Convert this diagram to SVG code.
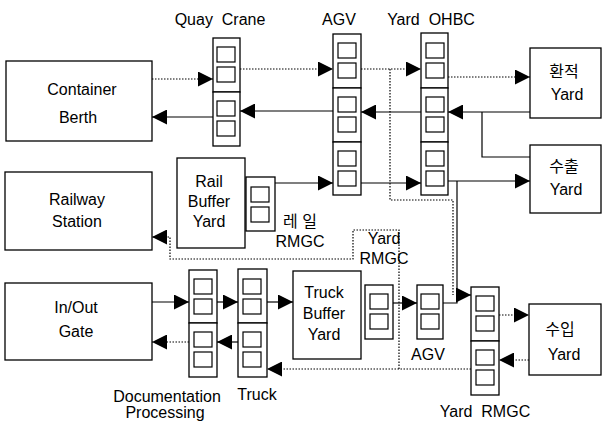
<svg xmlns="http://www.w3.org/2000/svg" width="604" height="423" viewBox="0 0 604 423">
<style>
.box{fill:#fff;stroke:#000;stroke-width:1.3}
.sq{fill:#fff;stroke:#000;stroke-width:1.2}
.t{font-family:"Liberation Sans",Arial,sans-serif;font-size:16px;fill:#000;text-anchor:middle;white-space:pre}
.k{font-family:"Liberation Sans","Noto Sans CJK KR",sans-serif;font-size:16px;fill:#000;text-anchor:middle;white-space:pre}
.s{fill:none;stroke:#000;stroke-width:1.2}
.d{fill:none;stroke:#000;stroke-width:1.2;stroke-dasharray:1.5 1.5}
</style>
<defs>
<marker id="ah" markerUnits="userSpaceOnUse" markerWidth="15" markerHeight="15" refX="15" refY="7.5" orient="auto">
<path d="M0,0 L15,7.5 L0,15 z" fill="#000"/>
</marker>
<g id="cmp">
<rect class="sq" x="4" y="9" width="18" height="15"/>
<rect class="sq" x="4" y="29" width="18" height="15"/>
</g>
</defs>

<g id="container-berth">
<rect class="box" x="6" y="61" width="146" height="80"/>
<text class="t" x="82" y="95">Container</text>
<text class="t" x="78" y="123">Berth</text>
</g>
<g id="railway-station">
<rect class="box" x="5" y="172" width="147" height="78"/>
<text class="t" x="77" y="205">Railway</text>
<text class="t" x="77" y="227">Station</text>
</g>
<g id="inout-gate">
<rect class="box" x="5" y="283" width="147" height="77"/>
<text class="t" x="76" y="313">In/Out</text>
<text class="t" x="76" y="337">Gate</text>
</g>

<g id="quay-crane">
<text class="t" x="220" y="25" xml:space="preserve">Quay  Crane</text>
<rect class="box" x="213" y="38" width="27" height="54"/>
<rect class="box" x="213" y="92" width="27" height="54"/>
<use href="#cmp" x="213" y="38"/>
<use href="#cmp" x="213" y="92"/>
</g>

<g id="agv-top">
<text class="t" x="339" y="25">AGV</text>
<rect class="box" x="333" y="34" width="28" height="54"/>
<rect class="box" x="333" y="88" width="28" height="54"/>
<rect class="box" x="333" y="142" width="28" height="53"/>
<use href="#cmp" x="334" y="34"/>
<use href="#cmp" x="334" y="88"/>
<use href="#cmp" x="334" y="142"/>
</g>

<g id="yard-ohbc">
<text class="t" x="431" y="25" xml:space="preserve">Yard  OHBC</text>
<rect class="box" x="421" y="33" width="27" height="55"/>
<rect class="box" x="421" y="88" width="27" height="54"/>
<rect class="box" x="421" y="142" width="27" height="53"/>
<use href="#cmp" x="422" y="34"/>
<use href="#cmp" x="422" y="88"/>
<use href="#cmp" x="422" y="142"/>
</g>

<g id="yard-transship">
<rect class="box" x="530" y="48" width="71" height="70"/>
<text class="k" x="564" y="77">환적</text>
<text class="t" x="567" y="100">Yard</text>
</g>
<g id="yard-export">
<rect class="box" x="530" y="145" width="71" height="68"/>
<text class="k" x="564" y="172">수출</text>
<text class="t" x="566" y="195">Yard</text>
</g>
<g id="yard-import">
<rect class="box" x="529" y="304" width="72" height="71"/>
<text class="k" x="560" y="335">수입</text>
<text class="t" x="564" y="360">Yard</text>
</g>

<g id="rail-buffer-yard">
<rect class="box" x="177" y="158" width="68" height="90"/>
<text class="t" x="209" y="187">Rail</text>
<text class="t" x="209" y="207">Buffer</text>
<text class="t" x="209" y="227">Yard</text>
</g>
<g id="rail-rmgc">
<rect class="box" x="246" y="177" width="29" height="54"/>
<use href="#cmp" x="247" y="178"/>
<text class="k" x="300" y="227" xml:space="preserve">레 일</text>
<text class="t" x="300" y="247">RMGC</text>
</g>

<g id="yard-rmgc-mid">
<text class="t" x="384" y="244">Yard</text>
<text class="t" x="384" y="264">RMGC</text>
</g>

<g id="documentation">
<rect class="box" x="189" y="270" width="28" height="53"/>
<rect class="box" x="189" y="323" width="28" height="54"/>
<use href="#cmp" x="190" y="270"/>
<use href="#cmp" x="190" y="323"/>
<text class="t" x="167" y="402">Documentation</text>
<text class="t" x="165" y="418">Processing</text>
</g>
<g id="truck">
<rect class="box" x="238" y="269" width="29" height="54"/>
<rect class="box" x="238" y="323" width="29" height="54"/>
<use href="#cmp" x="239" y="270"/>
<use href="#cmp" x="239" y="323"/>
<text class="t" x="257" y="400">Truck</text>
</g>
<g id="truck-buffer-yard">
<rect class="box" x="293" y="271" width="68" height="88"/>
<text class="t" x="324" y="298">Truck</text>
<text class="t" x="324" y="319">Buffer</text>
<text class="t" x="324" y="340">Yard</text>
</g>
<g id="truck-buffer-rmgc">
<rect class="box" x="365" y="285" width="28" height="54"/>
<use href="#cmp" x="366" y="285"/>
</g>
<g id="agv-bottom">
<rect class="box" x="417" y="285" width="26" height="54"/>
<use href="#cmp" x="417" y="285"/>
<text class="t" x="428" y="360">AGV</text>
</g>
<g id="yard-rmgc">
<rect class="box" x="471" y="287" width="28" height="54"/>
<rect class="box" x="471" y="341" width="28" height="54"/>
<use href="#cmp" x="472" y="287"/>
<use href="#cmp" x="472" y="341"/>
<text class="t" x="485" y="417" xml:space="preserve">Yard  RMGC</text>
</g>

<g id="connectors">
<path class="d" d="M152,79 H213" marker-end="url(#ah)"/>
<path class="d" d="M240,69 H333" marker-end="url(#ah)"/>
<path class="d" d="M361,69 H421" marker-end="url(#ah)"/>
<path class="d" d="M448,77 H530" marker-end="url(#ah)"/>
<path class="s" d="M530,112 H448" marker-end="url(#ah)"/>
<path class="s" d="M530,157 H482 V112"/>
<path class="s" d="M421,112 H361" marker-end="url(#ah)"/>
<path class="s" d="M333,111 H240" marker-end="url(#ah)"/>
<path class="s" d="M213,117 H152" marker-end="url(#ah)"/>
<path class="s" d="M275,183 H333" marker-end="url(#ah)"/>
<path class="s" d="M361,183 H421" marker-end="url(#ah)"/>
<path class="s" d="M448,181 H530" marker-end="url(#ah)"/>
<path class="d" d="M390,69 V200 H453 V295"/>
<path class="s" d="M457,181 V295 H471" marker-end="url(#ah)"/>
<path class="s" d="M443,303 H457 V295"/>
<path class="s" d="M393,303 H417" marker-end="url(#ah)"/>
<path class="s" d="M152,302 H189" marker-end="url(#ah)"/>
<path class="s" d="M217,302 H238" marker-end="url(#ah)"/>
<path class="s" d="M267,302 H293" marker-end="url(#ah)"/>
<path class="s" d="M238,342 H217" marker-end="url(#ah)"/>
<path class="d" d="M189,342 H152" marker-end="url(#ah)"/>
<path class="d" d="M471,369 H267" marker-end="url(#ah)"/>
<path class="d" d="M399,369 V230 H353 V259 H170 V237 H152" marker-end="url(#ah)"/>
<path class="d" d="M499,315 H529" marker-end="url(#ah)"/>
<path class="d" d="M529,360 H499" marker-end="url(#ah)"/>
</g>
</svg>
